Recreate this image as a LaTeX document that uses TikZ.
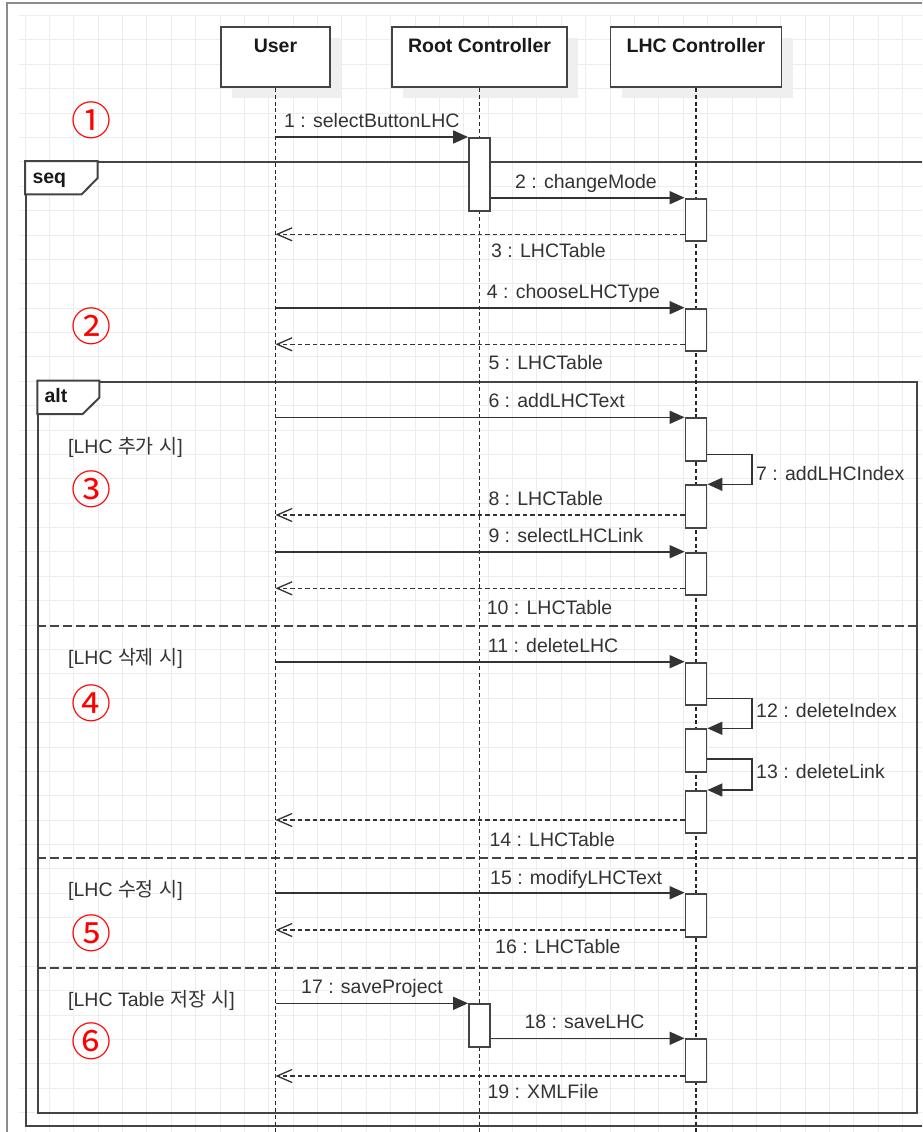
\documentclass[tikz,border=0pt]{standalone}
\usepackage{fontspec}
\setmainfont{Liberation Sans}
\newfontfamily\kofont{Noto Sans CJK KR}
\usetikzlibrary{arrows.meta,shadows}
\definecolor{txt}{HTML}{333333}
\definecolor{linec}{HTML}{333333}
\definecolor{framec}{HTML}{444444}
\definecolor{gridc}{HTML}{EDEDED}
\definecolor{outerc}{HTML}{8C8C8C}
\definecolor{shadowc}{HTML}{EFEFEF}
\definecolor{numred}{HTML}{FF0000}
\tikzset{
  gridline/.style={draw=gridc, line width=1pt},
  hdr/.style={draw=framec, line width=1.8pt, fill=white, rectangle, inner sep=0pt,
    minimum height=60pt, text height=25.7pt, text depth=34.3pt,
    font=\fontsize{19.5}{23}\selectfont\bfseries, text=black!90,
    drop shadow={shadow xshift=11pt, shadow yshift=-11pt, fill=shadowc, opacity=1}},
  act/.style={draw=framec, line width=1.8pt, fill=white, rectangle, inner sep=0pt,
    minimum width=21pt, anchor=north},
  lifeline/.style={draw=black!85, line width=1.4pt, dash pattern=on 4pt off 2.8pt},
  msg/.style={draw=linec, line width=1.6pt, -{Triangle[length=15pt,width=13pt]}},
  ret/.style={draw=linec, line width=1.3pt, dash pattern=on 4.5pt off 3pt,
    -{Straight Barb[length=15pt,width=13pt,line width=1.3pt]}},
  lbl/.style={font=\fontsize{19.5}{23}\selectfont, text=txt, inner sep=0pt, anchor=base west},
  guard/.style={font=\fontsize{19.5}{23}\selectfont, text=txt, inner sep=0pt, anchor=base west},
  fr/.style={draw=framec, line width=2pt, rectangle, inner sep=0pt, anchor=north west},
  frtag/.style={draw=framec, line width=2pt, fill=white},
  frtxt/.style={font=\fontsize{19.5}{23}\selectfont\bfseries, text=black!90, inner sep=0pt, anchor=base west},
  sep/.style={draw=framec, line width=1.8pt, dash pattern=on 9pt off 4pt},
  circnum/.style={font=\kofont\fontsize{40}{44}\selectfont, text=numred, inner sep=0pt}
}
\begin{document}
\begin{tikzpicture}[x=1pt,y=-1pt]
\useasboundingbox (0,0) rectangle (922,1132);
\clip (0,0) rectangle (922,1132);
% grid
\foreach \k in {0,...,37} \draw[gridline] ({25+\k*24.38},16) -- ({25+\k*24.38},1132);
\foreach \k in {0,...,46} \draw[gridline] (19,{15.6+\k*24.38}) -- (922,{15.6+\k*24.38});
% outer frame
\draw[draw=outerc, line width=2pt] (7,3) rectangle (960,1170);
% headers
\node[hdr, minimum width=109pt] (user) at (275.5,57) {User};
\node[hdr, minimum width=175pt] (root) at (479.5,57) {Root Controller};
\node[hdr, minimum width=171pt] (lhc) at (696,57) {LHC Controller};
\coordinate (bot) at (0,1135);
% frames
\node[fr, minimum width=915pt, minimum height=964pt] (seq) at (25,161) {};
\node[fr, minimum width=878.2pt, minimum height=731pt] (alt) at (37.3,380.7) {};
\draw[frtag] (seq.north west) -- (97.7,161) -- (97.7,178) -- (81.7,194.3) -- (25,194.3) -- cycle;
\node[frtxt] (seqt) at (32.3,183.3) {seq};
\draw[frtag] (alt.north west) -- (99.3,380.7) -- (99.3,397.7) -- (82.7,414) -- (37.3,414) -- cycle;
\node[frtxt] (altt) at (44.3,402.7) {alt};
\coordinate (s1) at (0,626);
\coordinate (s2) at (0,858.3);
\coordinate (s3) at (0,967.7);
\draw[sep] (alt.west |- s1) -- (alt.east |- s1);
\draw[sep] (alt.west |- s2) -- (alt.east |- s2);
\draw[sep] (alt.west |- s3) -- (alt.east |- s3);
% lifelines
\draw[lifeline] (user.south) -- (user.south |- bot);
\draw[lifeline] (root.south) -- (root.south |- bot);
\draw[lifeline] (lhc.south) -- (lhc.south |- bot);
% activations
\node[act, minimum height=73pt] (a1) at (479.5,137) {};
\node[act, minimum height=42.3pt] (b1) at (696,197.7) {};
\node[act, minimum height=42.3pt] (b2) at (696,307.7) {};
\node[act, minimum height=42.7pt] (b3) at (696,417.3) {};
\node[act, minimum height=42.4pt] (b4) at (696,484.3) {};
\node[act, minimum height=42.6pt] (b5) at (696,551.7) {};
\node[act, minimum height=42.3pt] (b6) at (696,661.7) {};
\node[act, minimum height=42.7pt] (b7) at (696,728.3) {};
\node[act, minimum height=42.3pt] (b8) at (696,790) {};
\node[act, minimum height=43.3pt] (b9) at (696,892.7) {};
\node[act, minimum height=42.4pt] (a2) at (479.5,1003.3) {};
\node[act, minimum height=42.4pt] (b10) at (696,1038.3) {};
% message points on User lifeline
\coordinate (u1) at (275.5,137);
\coordinate (u3) at (275.5,234.3);
\coordinate (u4) at (275.5,307.7);
\coordinate (u5) at (275.5,344.3);
\coordinate (u6) at (275.5,417.3);
\coordinate (u8) at (275.5,515);
\coordinate (u9) at (275.5,551.7);
\coordinate (u10) at (275.5,588.3);
\coordinate (u11) at (275.5,661.7);
\coordinate (u14) at (275.5,820);
\coordinate (u15) at (275.5,892.7);
\coordinate (u16) at (275.5,930);
\coordinate (u17) at (275.5,1003.3);
\coordinate (u19) at (275.5,1076);
\coordinate (y7) at (0,454.3);
\coordinate (y12) at (0,698.3);
\coordinate (y13) at (0,759);
% messages
\draw[msg] (u1) -- (a1.north west);
\draw[msg] (a1.east |- b1.north) -- (b1.north west);
\draw[ret] (b1.west |- u3) -- (u3);
\draw[msg] (u4) -- (b2.north west);
\draw[ret] (b2.west |- u5) -- (u5);
\draw[msg] (u6) -- (b3.north west);
\draw[msg] (b3.east |- y7) -- ++(44.5,0) |- (b4.north east);
\draw[ret] (b4.west |- u8) -- (u8);
\draw[msg] (u9) -- (b5.north west);
\draw[ret] (b5.west |- u10) -- (u10);
\draw[msg] (u11) -- (b6.north west);
\draw[msg] (b6.east |- y12) -- ++(44.5,0) |- (b7.north east);
\draw[msg] (b7.east |- y13) -- ++(44.5,0) |- (b8.north east);
\draw[ret] (b8.west |- u14) -- (u14);
\draw[msg] (u15) -- (b9.north west);
\draw[ret] (b9.west |- u16) -- (u16);
\draw[msg] (u17) -- (a2.north west);
\draw[msg] (a2.east |- b10.north) -- (b10.north west);
\draw[ret] (b10.west |- u19) -- (u19);
% labels
\node[lbl] (l1) at (284,127.7) {1 : selectButtonLHC};
\node[lbl] (l2) at (515,188.3) {2 : changeMode};
\node[lbl] (l3) at (491,257.5) {3 : LHCTable};
\node[lbl] (l4) at (486.7,298.3) {4 : chooseLHCType};
\node[lbl] (l5) at (488.3,369.3) {5 : LHCTable};
\node[lbl] (l6) at (488.3,407.7) {6 : addLHCText};
\node[lbl] (l7) at (756,480.7) {7 : addLHCIndex};
\node[lbl] (l8) at (488.3,505.2) {8 : LHCTable};
\node[lbl] (l9) at (488.3,542) {9 : selectLHCLink};
\node[lbl] (l10) at (486.7,614) {10 : LHCTable};
\node[lbl] (l11) at (487.7,652) {11 : deleteLHC};
\node[lbl] (l12) at (756,717.3) {12 : deleteIndex};
\node[lbl] (l13) at (756,778.3) {13 : deleteLink};
\node[lbl] (l14) at (489.3,846) {14 : LHCTable};
\node[lbl] (l15) at (490,884) {15 : modifyLHCText};
\node[lbl] (l16) at (495,953.3) {16 : LHCTable};
\node[lbl] (l17) at (301,993.3) {17 : saveProject};
\node[lbl] (l18) at (524.3,1028.7) {18 : saveLHC};
\node[lbl] (l19) at (487.3,1098) {19 : XMLFile};
% guards
\node[guard] (g1) at (68,453.5) {[LHC {\kofont 추가} {\kofont 시}]};
\node[guard] (g2) at (68,664) {[LHC {\kofont 삭제} {\kofont 시}]};
\node[guard] (g3) at (68,896) {[LHC {\kofont 수정} {\kofont 시}]};
\node[guard] (g4) at (68,1006) {[LHC Table {\kofont 저장} {\kofont 시}]};
% circled numbers
\node[circnum] (n1) at (91.3,120.3) {①};
\node[circnum] (n2) at (91.3,326.5) {②};
\node[circnum] (n3) at (91.3,489.5) {③};
\node[circnum] (n4) at (91.3,703.3) {④};
\node[circnum] (n5) at (91.3,933.3) {⑤};
\node[circnum] (n6) at (91.3,1041.7) {⑥};
\end{tikzpicture}
\end{document}
